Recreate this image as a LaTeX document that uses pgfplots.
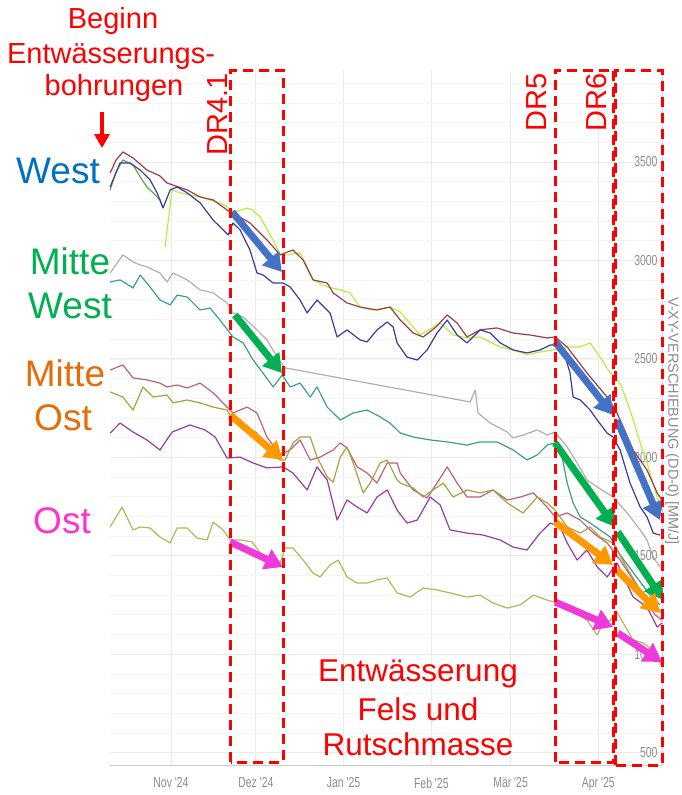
\documentclass[border=0pt]{standalone}
\usepackage{fontspec}
\setmainfont{Liberation Sans}
\newfontfamily\condfont[FakeStretch=0.72]{Liberation Sans}
\usepackage{pgfplots}
\pgfplotsset{compat=1.18}
\usetikzlibrary{arrows.meta}
\definecolor{ttred}{HTML}{FF0000}
\definecolor{twest}{HTML}{0070C0}
\definecolor{tmw}{HTML}{00B050}
\definecolor{tmo}{HTML}{E46C0A}
\definecolor{tost}{HTML}{FF33CC}
\definecolor{abl}{HTML}{4472C4}
\definecolor{agr}{HTML}{00B050}
\definecolor{aor}{HTML}{FF9900}
\definecolor{amg}{HTML}{EE3ADB}
\definecolor{lred}{HTML}{9E3D4A}
\definecolor{lblue}{HTML}{3B3B9C}
\definecolor{llg}{HTML}{B8F040}
\definecolor{lgr}{HTML}{5DAA45}
\definecolor{lgray}{HTML}{AFAFAF}
\definecolor{lteal}{HTML}{3E9E8C}
\definecolor{lrosy}{HTML}{C0607A}
\definecolor{lolive}{HTML}{A3A340}
\definecolor{lpurp}{HTML}{983C9C}
\definecolor{lost}{HTML}{B2B855}
\definecolor{gridc}{HTML}{EAEAEA}
\definecolor{tickc}{HTML}{8C8C8C}
\tikzset{dbox/.style={draw=ttred, line width=3pt, dash pattern=on 10pt off 6pt},
  ar/.style={line width=7pt, -{Triangle[width=21pt,length=18pt]}}}
\begin{document}
\begin{tikzpicture}
\path[use as bounding box] (0pt,0pt) rectangle (681pt,-795pt);
\begin{axis}[
  at={(110pt,-765pt)}, anchor=south west,
  width=552pt, height=695pt, scale only axis,
  xmin=-21.55, xmax=173.5, ymin=437, ymax=3967,
  clip=false,
  axis line style={draw=none},
  xtick={0,30,61,92,120,151},
  xticklabels={Nov '24,Dez '24,Jan '25,Feb '25,Mär '25,Apr '25},
  ytick={500,1000,...,3500},
  minor ytick={600,700,...,3900},
  yticklabel pos=right,
  tick style={draw=none},
  xmajorgrids=true, ymajorgrids=true, yminorgrids=true,
  major grid style={draw=gridc, line width=0.8pt},
  minor grid style={draw=gridc!50, line width=0.6pt},
  ticklabel style={font=\condfont\fontsize{14.5}{16}\selectfont, text=tickc},
  yticklabel style={anchor=east, xshift=-1pt},
  xticklabel style={yshift=-9pt},
  /pgf/number format/assume math mode=true,
  /pgf/number format/1000 sep={},
  every axis plot/.append style={line width=1.2pt, no markers, line join=round},
]
\draw[gray!40, line width=1pt] (rel axis cs:0,0) -- (rel axis cs:1,0);
\draw[blue!20, line width=1pt] (rel axis cs:1,0) -- (rel axis cs:1,1);
% West
\addplot[lgr] coordinates {(-21.5,3358) (-19.4,3449) (-17.0,3510) (-13.4,3485) (-10.9,3424) (-8.5,3373) (-6.3,3343) (-3.9,3307) (-2.8,3266)};
\addplot[llg] coordinates {(-2.1,3068) (0.4,3358) (3.2,3343) (10.3,3322) (17.3,3292) (22.6,3246) (26.9,3266) (28.7,3256) (31.5,3221) (36.1,3104) (38.6,3028) (41.0,3028) (45.6,3038) (50.2,2901) (55.2,2865) (59.8,2850) (63.3,2835) (66.8,2763) (71.4,2748) (77.4,2763) (81.0,2738) (88.0,2621) (95.1,2682) (99.7,2621) (104.6,2606) (109.2,2611) (116.3,2560) (120.9,2545) (125.8,2520) (130.4,2535) (135.0,2545) (140.0,2560) (144.6,2560) (148.1,2581) (151.6,2509) (155.2,2428) (158.7,2377) (162.2,2240) (165.8,2073) (168.2,1971) (171.8,1798) (173.5,1732)};
\addplot[lred] coordinates {(-21.5,3444) (-19.4,3510) (-17.0,3551) (-13.4,3520) (-8.5,3459) (-3.9,3429) (-1.4,3393) (5.7,3358) (10.3,3322) (14.9,3307) (19.8,3256) (21.9,3241) (27.9,3190) (33.9,3104) (38.6,3028) (43.1,3053) (46.7,3002) (50.2,2901) (55.2,2885) (57.3,2835) (62.2,2784) (66.8,2763) (72.8,2748) (77.4,2763) (81.0,2697) (85.6,2631) (89.1,2611) (93.5,2660) (97.6,2723) (101.1,2682) (104.6,2611) (109.2,2647) (115.2,2657) (120.9,2631) (126.9,2621) (132.9,2606) (135.7,2611) (140.0,2560) (147.0,2428) (154.1,2306) (157.6,2225) (163.3,2037) (168.2,1935) (171.8,1819) (173.5,1783)};
\addplot[lblue] coordinates {(-21.5,3373) (-18.0,3495) (-14.5,3495) (-10.9,3459) (-7.4,3409) (-4.9,3343) (-2.8,3266) (-0.3,3358) (2.2,3373) (5.7,3343) (10.3,3292) (14.9,3205) (18.4,3155) (20.2,3129) (21.9,3190) (24.4,3155) (27.9,3053) (30.4,2936) (32.5,2926) (36.1,2885) (39.6,2885) (42.1,2865) (45.6,2799) (48.1,2733) (51.6,2799) (56.2,2733) (58.7,2611) (62.2,2647) (66.8,2596) (69.3,2586) (72.8,2647) (76.4,2687) (78.5,2662) (79.9,2581) (83.4,2509) (87.0,2494) (90.5,2545) (94.0,2631) (97.6,2697) (101.1,2621) (104.6,2581) (109.2,2647) (112.8,2631) (116.3,2581) (120.9,2545) (125.8,2530) (130.4,2545) (134.0,2570) (135.7,2570) (138.6,2545) (141.0,2428) (142.1,2306) (144.6,2291) (148.1,2240) (150.6,2189) (154.1,2123) (156.2,2103) (158.7,2037) (162.2,1869) (165.8,1747) (168.2,1697) (170.4,1615) (172.8,1605)};
% Mitte West
\addplot[lgray] coordinates {(-21.5,2936) (-17.0,3028) (-13.4,2992) (-10.9,2977) (-8.5,2967) (-3.9,2936) (-1.4,2890) (0.7,2936) (5.7,2901) (10.3,2850) (14.9,2835) (19.8,2784) (21.9,2733) (25.5,2713) (30.4,2647) (33.9,2596) (37.5,2509) (40.3,2454) (105.7,2281) (107.5,2342) (108.5,2225) (112.8,2174) (118.8,2128) (120.9,2098) (124.4,2113) (129.4,2139) (132.9,2113) (135.7,2128) (140.0,2052) (143.5,1971) (147.0,1885) (150.6,1849) (156.2,1798) (161.2,1717) (165.8,1631) (168.2,1580) (170.4,1494) (172.8,1443)};
\addplot[lteal] coordinates {(-21.5,2890) (-18.0,2901) (-13.4,2860) (-10.9,2926) (-7.4,2865) (-3.9,2799) (-0.3,2774) (2.2,2824) (5.7,2814) (10.3,2748) (13.8,2758) (17.3,2697) (21.9,2611) (25.5,2581) (29.0,2494) (32.5,2428) (36.1,2357) (39.3,2418) (42.1,2357) (45.6,2377) (49.2,2306) (51.6,2357) (55.2,2255) (59.8,2189) (64.4,2225) (69.3,2240) (73.9,2205) (77.4,2174) (81.0,2123) (85.6,2103) (91.6,2088) (97.6,2078) (104.6,2062) (109.2,2078) (115.2,2078) (120.9,2037) (125.8,1986) (129.4,2012) (132.9,2062) (135.7,2073) (138.2,2001) (140.0,1869) (142.1,1768) (144.6,1697) (148.1,1666) (151.6,1631) (155.2,1595) (158.7,1504) (164.0,1402) (169.3,1300) (172.8,1250)};
% Mitte Ost
\addplot[lrosy] coordinates {(-21.5,2443) (-17.0,2469) (-13.4,2403) (-8.5,2393) (-3.9,2377) (-1.4,2357) (2.2,2367) (5.7,2352) (10.3,2377) (14.9,2327) (19.8,2255) (21.9,2225) (26.9,2255) (30.4,2225) (33.9,2103) (38.6,2012) (42.1,2037) (45.6,2088) (49.2,1986) (52.7,2001) (57.3,2037) (59.8,2073) (62.2,2047) (65.8,1951) (69.3,1920) (72.8,1869) (76.4,1971) (79.9,1971) (81.0,1920) (85.6,1834) (90.5,1793) (94.0,1869) (97.6,1951) (101.1,1869) (104.6,1798) (109.2,1798) (113.8,1834) (118.8,1783) (123.4,1798) (128.0,1819) (132.9,1747) (135.7,1697) (140.0,1717) (144.6,1681) (149.2,1615) (154.1,1565) (158.7,1478) (163.3,1377) (167.5,1275) (171.1,1199) (173.5,1173)};
\addplot[lolive] coordinates {(-21.5,2332) (-17.0,2306) (-13.4,2240) (-9.9,2357) (-6.3,2306) (-1.4,2316) (0.7,2276) (5.7,2291) (10.3,2276) (14.9,2255) (19.8,2240) (21.9,2189) (26.9,2154) (30.4,2123) (33.9,2037) (38.6,1986) (40.3,1986) (43.1,2073) (45.6,2103) (49.2,2103) (51.6,2001) (55.2,1900) (57.3,1874) (59.8,2001) (62.2,2052) (64.4,1971) (67.9,1819) (70.4,1869) (73.9,1971) (76.4,1986) (79.9,1885) (81.0,1869) (85.6,1844) (89.1,1798) (92.6,1834) (96.2,1869) (99.7,1798) (104.6,1834) (109.2,1819) (113.8,1834) (118.8,1768) (124.4,1717) (129.4,1798) (132.9,1768) (135.7,1732) (140.0,1646) (144.6,1615) (148.1,1646) (151.6,1595) (156.2,1565) (160.5,1453) (165.8,1326) (170.0,1250) (173.5,1214)};
\addplot[lpurp] coordinates {(-21.5,2123) (-18.0,2174) (-13.4,2128) (-8.5,2088) (-3.9,2037) (0.4,2128) (6.7,2164) (12.0,2139) (15.6,2103) (19.8,1996) (24.4,2001) (29.0,1971) (33.9,1946) (39.6,1951) (43.1,1920) (48.1,1834) (51.6,1951) (55.2,1885) (58.7,1681) (62.2,1783) (65.8,1747) (69.3,1717) (72.8,1798) (76.4,1834) (79.9,1732) (83.4,1666) (87.0,1681) (91.6,1798) (95.1,1758) (98.6,1631) (104.6,1615) (110.3,1605) (116.3,1580) (120.9,1544) (125.8,1529) (130.4,1615) (134.0,1666) (137.5,1646) (140.0,1565) (143.5,1478) (147.0,1529) (150.6,1443) (154.1,1392) (157.6,1463) (163.3,1290) (168.2,1239) (171.8,1138) (173.5,1158)};
% Ost
\addplot[lost] coordinates {(-21.5,1646) (-17.3,1747) (-13.4,1631) (-10.9,1646) (-7.4,1641) (-3.9,1595) (-0.3,1565) (2.2,1641) (5.7,1641) (9.2,1590) (12.8,1580) (14.9,1671) (18.4,1631) (20.9,1580) (24.4,1580) (28.7,1570) (31.5,1514) (35.0,1478) (38.6,1463) (40.3,1539) (43.1,1539) (46.7,1478) (50.2,1412) (52.7,1392) (56.2,1453) (59.1,1478) (62.2,1392) (65.8,1361) (69.3,1361) (72.8,1377) (76.4,1387) (79.9,1311) (84.5,1290) (89.1,1336) (94.0,1326) (98.6,1311) (104.6,1290) (109.2,1300) (113.8,1260) (118.8,1234) (123.4,1250) (128.0,1300) (132.9,1275) (136.4,1260) (141.0,1224) (147.0,1173) (150.6,1097) (152.7,1158) (155.2,1173) (157.6,1214) (159.8,1158) (163.3,1072) (166.8,1057) (170.4,1021) (173.5,935)};
% arrows
\draw[ar, abl] (axis cs:21.6,3246) -- (axis cs:39.2,2941);
\draw[ar, agr] (axis cs:22.6,2723) -- (axis cs:39.2,2428);
\draw[ar, aor] (axis cs:20.9,2215) -- (axis cs:39.6,1986);
\draw[ar, amg] (axis cs:20.9,1570) -- (axis cs:39.6,1443);
\draw[ar, abl] (axis cs:135.7,2586) -- (axis cs:156.2,2215);
\draw[ar, abl] (axis cs:157.6,2189) -- (axis cs:172.8,1681);
\draw[ar, agr] (axis cs:135.7,2073) -- (axis cs:156.9,1646);
\draw[ar, agr] (axis cs:157.9,1620) -- (axis cs:173.9,1275);
\draw[ar, aor] (axis cs:135.7,1671) -- (axis cs:156.2,1453);
\draw[ar, aor] (axis cs:157.6,1427) -- (axis cs:172.8,1209);
\draw[ar, amg] (axis cs:135.7,1265) -- (axis cs:156.2,1138);
\draw[ar, amg] (axis cs:157.9,1107) -- (axis cs:173.5,960);
% boxes
\draw[dbox] (axis cs:21.2,452) rectangle (axis cs:39.6,3967);
\draw[dbox] (axis cs:135.7,452) rectangle (axis cs:156.5,3967);
\draw[dbox] (axis cs:157.2,437) rectangle (axis cs:173.5,3967);
\end{axis}
% texts outside / annotations
\begin{scope}[every node/.style={inner sep=0pt}]
\node[anchor=base, text=ttred, font=\fontsize{29}{32}\selectfont] at (113pt,-28pt) {Beginn};
\node[anchor=base, text=ttred, font=\fontsize{29}{32}\selectfont] at (111pt,-63pt) {Entwässerungs-};
\node[anchor=base, text=ttred, font=\fontsize{29}{32}\selectfont] at (114pt,-95pt) {bohrungen};
\draw[ttred, line width=4pt, -{Triangle[width=15pt,length=14pt]}] (102pt,-112pt) -- (102pt,-148pt);
\node[anchor=base, text=twest, font=\fontsize{37}{44}\selectfont] at (58pt,-183pt) {West};
\node[anchor=base, text=tmw, font=\fontsize{37}{44}\selectfont] at (70pt,-274pt) {Mitte};
\node[anchor=base, text=tmw, font=\fontsize{37}{44}\selectfont] at (70pt,-318pt) {West};
\node[anchor=base, text=tmo, font=\fontsize{37}{44}\selectfont] at (65pt,-386pt) {Mitte};
\node[anchor=base, text=tmo, font=\fontsize{37}{44}\selectfont] at (63pt,-430pt) {Ost};
\node[anchor=base, text=tost, font=\fontsize{37}{44}\selectfont] at (62pt,-533pt) {Ost};
\node[anchor=base, text=ttred, font=\fontsize{31.5}{37}\selectfont] at (418pt,-681pt) {Entwässerung};
\node[anchor=base, text=ttred, font=\fontsize{31.5}{37}\selectfont] at (418pt,-720pt) {Fels und};
\node[anchor=base, text=ttred, font=\fontsize{31.5}{37}\selectfont] at (418pt,-755pt) {Rutschmasse};
\node[rotate=90, anchor=east, text=ttred, font=\fontsize{29}{32}\selectfont] at (218pt,-73pt) {DR4.1};
\node[rotate=90, anchor=east, text=ttred, font=\fontsize{29}{32}\selectfont] at (537pt,-73pt) {DR5};
\node[rotate=90, anchor=east, text=ttred, font=\fontsize{29}{32}\selectfont] at (597pt,-73pt) {DR6};
\node[rotate=-90, anchor=west, text=tickc, font=\fontsize{14.5}{16}\selectfont] at (672pt,-297pt) {V-XY-VERSCHIEBUNG (DD-0) [MM/J]};
\end{scope}
\end{tikzpicture}
\end{document}
